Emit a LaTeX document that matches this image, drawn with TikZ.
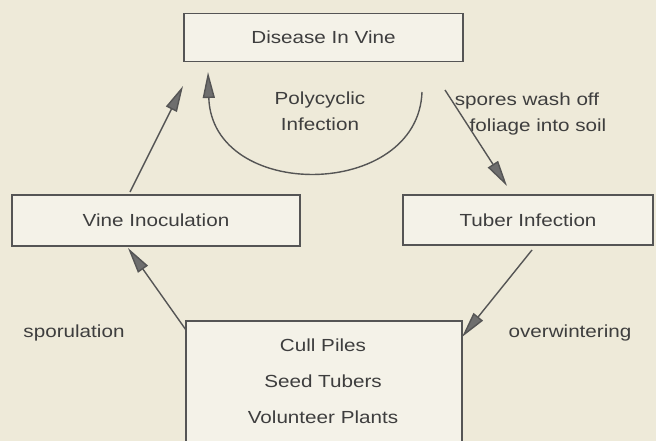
\documentclass[tikz,border=0pt]{standalone}
\usepackage{fontspec}
\setmainfont{Liberation Sans}[FakeStretch=1.18]
\usetikzlibrary{arrows.meta}
\definecolor{paper}{HTML}{EEEAD9}
\definecolor{boxfill}{HTML}{F4F2E8}
\definecolor{ink}{HTML}{3E3E3E}
\definecolor{linec}{HTML}{555555}
\begin{document}
\begin{tikzpicture}[x=1pt,y=-1pt,
  font=\fontsize{17.5}{21}\selectfont,
  box/.style={draw=linec,line width=1.3pt,fill=boxfill,text=ink,inner sep=0pt,anchor=center},
  lbl/.style={text=ink,inner sep=0pt,align=center},
  arr/.style={draw=linec,line width=1.4pt,-{Triangle[length=26pt,width=12pt,fill=linec!85]}}]
\useasboundingbox[fill=paper] (0,0) rectangle (656,441);
\begin{scope}
\clip (0,0) rectangle (656,441);
\node[box,minimum width=279pt,minimum height=48pt] (dis) at (323.5,37.5) {Disease In Vine};
\node[box,minimum width=288pt,minimum height=51pt] (vin) at (156,220.5) {Vine Inoculation};
\node[box,minimum width=250pt,minimum height=50pt] (tub) at (528,220) {Tuber Infection};
\node[box,minimum width=276pt,minimum height=130pt] (cul) at (324,386) {};
\node[lbl] (c1) at (323,345) {Cull Piles};
\node[lbl] (c2) at (323,381) {Seed Tubers};
\node[lbl] (c3) at (323,417) {Volunteer Plants};
\end{scope}
\node[lbl] (poly) at (320,111) {Polycyclic\\[5pt]Infection};
\node[lbl] (spor) at (527,114) {spores wash off\\[5pt]\hspace*{22pt}foliage into soil};
\node[lbl] (spo) at (74,333) {sporulation};
\node[lbl] (ovw) at (570,333) {overwintering};
\coordinate (a1s) at (130,192);
\coordinate (a1e) at (183,86);
\coordinate (a2s) at (422,92);
\coordinate (a2e) at (208,72);
\coordinate (a3s) at (445,90);
\coordinate (a3e) at (507,186);
\coordinate (a4s) at (532,250);
\coordinate (a4e) at (462,337);
\coordinate (a5s) at (186,330);
\coordinate (a5e) at (128,248);
\draw[arr] (a1s) -- (a1e);
\draw[arr] (a2s) .. controls (418,200) and (212,202) .. (a2e);
\draw[arr] (a3s) -- (a3e);
\draw[arr] (a4s) -- (a4e);
\draw[arr] (a5s) -- (a5e);
\end{tikzpicture}
\end{document}
